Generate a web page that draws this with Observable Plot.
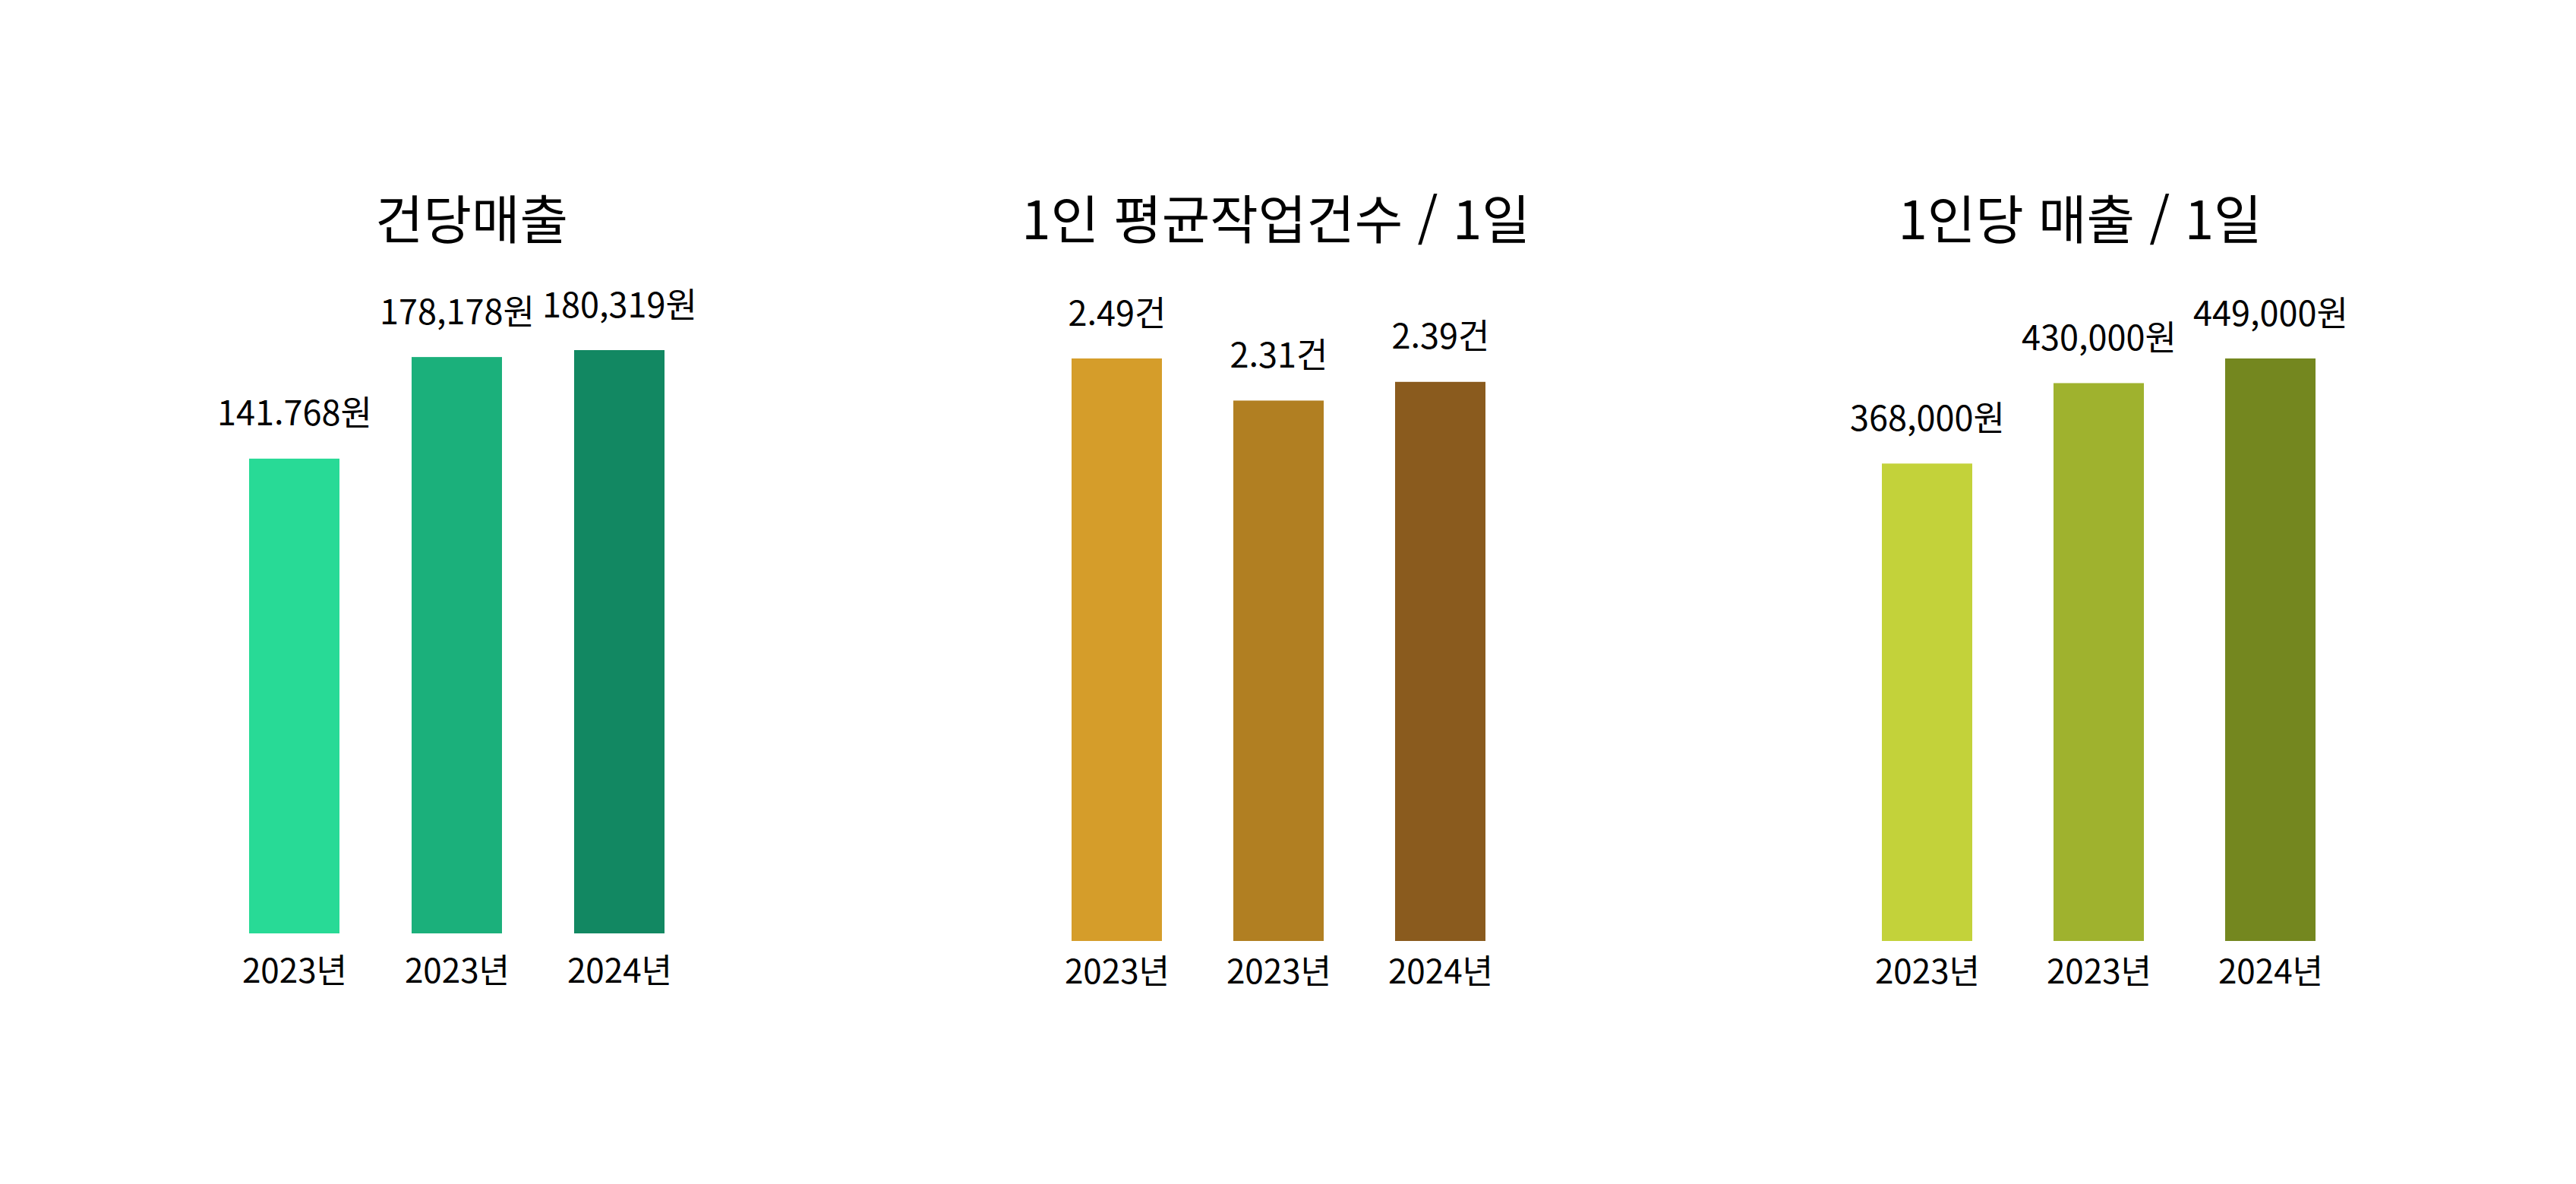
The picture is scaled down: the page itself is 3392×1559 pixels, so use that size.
<!DOCTYPE html>
<html lang="ko">
<head>
<meta charset="utf-8">
<script src="https://cdn.jsdelivr.net/npm/d3@7"></script>
<script src="https://cdn.jsdelivr.net/npm/@observablehq/plot@0.6"></script>
<style>
  html, body { margin: 0; padding: 0; background: #ffffff; }
  #page { position: relative; width: 3392px; height: 1559px; background: #ffffff; overflow: hidden;
          font-family: "Noto Sans CJK KR", "Noto Sans", sans-serif; }
  .panel { position: absolute; top: 0; }
  .title { position: absolute; width: 1000px; text-align: center; font-size: 69px; line-height: 69px;
           color: #000; font-family: "Noto Sans CJK KR", sans-serif; white-space: nowrap; }
</style>
</head>
<body>
<div id="page"></div>
<script>
// ---- data ----
const years = ["2023년", "2023년", "2024년"];

const titles = ["건당매출", "1인 평균작업건수 / 1일", "1인당 매출 / 1일"];

const salesPerCase = [146768, 178178, 180319];
const salesPerCaseLabels = ["141.768원", "178,178원", "180,319원"];

const casesPerPerson = [2.49, 2.31, 2.39];
const casesPerPersonLabels = ["2.49건", "2.31건", "2.39건"];

const salesPerPerson = [368000, 430000, 449000];
const salesPerPersonLabels = ["368,000원", "430,000원", "449,000원"];

// ---- styles ----
const greens = ["#28da96", "#1bb07b", "#128862"];
const golds = ["#d59d2a", "#b17f22", "#8a5b1e"];
const olives = ["#c3d23a", "#9fb22e", "#74871f"];

const W = 3392, H = 1559, PW = 1130;
const FONT = "'Noto Sans CJK KR', sans-serif";

const panels = [
  {left: 0, values: salesPerCase, labels: salesPerCaseLabels, colors: greens, title: titles[0],
   mL: 279.1, mR: 206.6, pad: 0.446, top: 461, bottom: 1229, tickPad: 33, titleX: 621},
  {left: 1131, values: casesPerPerson, labels: casesPerPersonLabels, colors: golds, title: titles[1],
   mL: 233.5, mR: 257.5, pad: 0.441, top: 472, bottom: 1239, tickPad: 24, titleX: 1680},
  {left: 2262, values: salesPerPerson, labels: salesPerPersonLabels, colors: olives, title: titles[2],
   mL: 163, mR: 289, pad: 0.473, top: 472, bottom: 1239, tickPad: 24, titleX: 2739}
];

const page = document.getElementById("page");

for (const p of panels) {
  const idx = d3.range(p.values.length);
  const chart = Plot.plot({
    width: PW,
    height: H,
    marginLeft: p.mL,
    marginRight: p.mR,
    marginTop: p.top,
    marginBottom: H - p.bottom,
    style: {background: "transparent", fontFamily: FONT, color: "#000"},
    x: {domain: idx, paddingInner: p.pad, paddingOuter: p.pad / 2, axis: null},
    y: {domain: [0, d3.max(p.values)], axis: null},
    color: {domain: idx, range: p.colors},
    marks: [
      Plot.barY(idx, {x: i => i, y: i => p.values[i], fill: i => i}),
      Plot.text(idx, {x: i => i, y: i => p.values[i], text: i => p.labels[i],
        lineAnchor: "bottom", dy: -44, fontSize: 45, fill: "#000"}),
      Plot.axisX({tickSize: 0, tickPadding: p.tickPad, fontSize: 44,
        tickFormat: i => years[i], fill: "#000"})
    ]
  });
  chart.classList.add("panel");
  chart.style.left = p.left + "px";
  page.appendChild(chart);

  const t = document.createElement("div");
  t.className = "title";
  t.textContent = p.title;
  t.style.left = (p.titleX - 500) + "px";
  t.style.top = "251px";
  page.appendChild(t);
}
</script>
</body>
</html>
